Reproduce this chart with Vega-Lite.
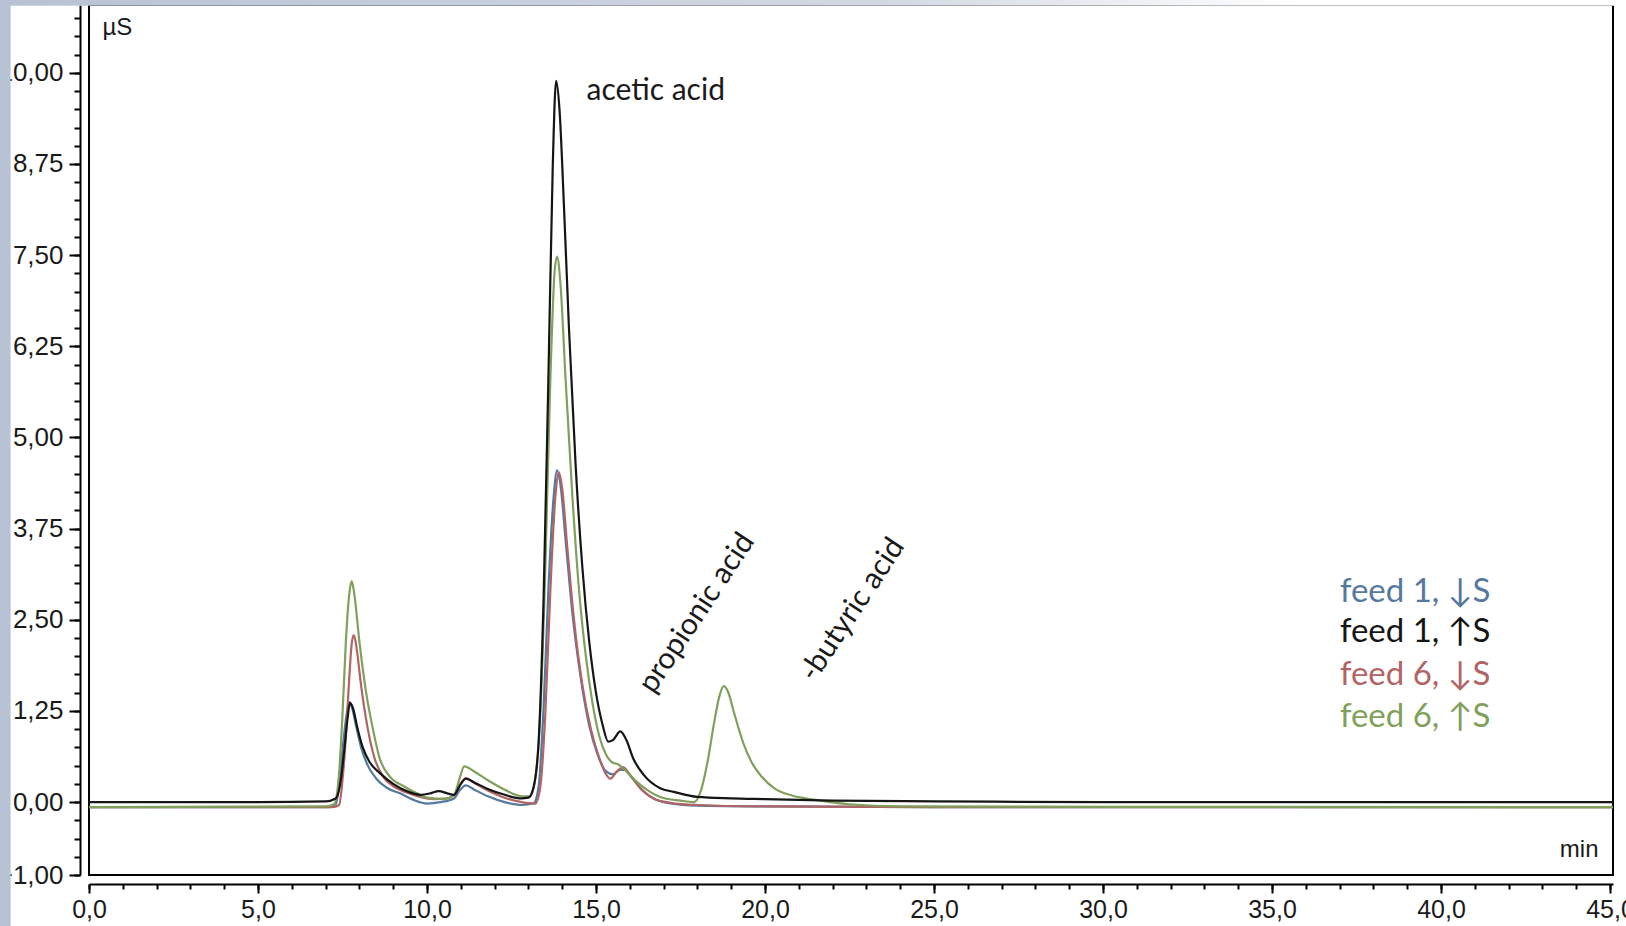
{
  "$schema": "https://vega.github.io/schema/vega-lite/v6.json",
  "width": 1524,
  "height": 870,
  "autosize": {"type": "none"},
  "padding": {"left": 89, "top": 5, "right": 13, "bottom": 51},
  "background": "white",
  "config": {"view": {"stroke": "#000000", "strokeWidth": 2}, "font": "Liberation Sans"},
  "datasets": {
    "blue": [
      {"t":0,"v":-0.07},{"t":7.1,"v":-0.07},{"t":7.3,"v":-0.03},{"t":7.42,"v":0.3},{"t":7.52,"v":0.8},{"t":7.62,"v":1.2},{"t":7.7,"v":1.37},{"t":7.78,"v":1.3},{"t":7.9,"v":1.05},{"t":8.05,"v":0.75},{"t":8.25,"v":0.5},{"t":8.5,"v":0.32},{"t":8.8,"v":0.2},{"t":9.2,"v":0.12},{"t":9.6,"v":0.03},{"t":10.0,"v":-0.02},{"t":10.4,"v":0.0},{"t":10.8,"v":0.05},{"t":10.95,"v":0.15},{"t":11.15,"v":0.23},{"t":11.4,"v":0.17},{"t":11.8,"v":0.08},{"t":12.3,"v":0.0},{"t":12.8,"v":-0.04},{"t":13.15,"v":-0.02},{"t":13.3,"v":0.2},{"t":13.45,"v":1.3},{"t":13.6,"v":3.0},{"t":13.75,"v":4.2},{"t":13.85,"v":4.55},{"t":13.95,"v":4.35},{"t":14.1,"v":3.6},{"t":14.3,"v":2.6},{"t":14.55,"v":1.7},{"t":14.8,"v":1.05},{"t":15.05,"v":0.65},{"t":15.3,"v":0.42},{"t":15.5,"v":0.38},{"t":15.7,"v":0.44},{"t":15.85,"v":0.44},{"t":16.05,"v":0.34},{"t":16.35,"v":0.17},{"t":16.75,"v":0.04},{"t":17.2,"v":-0.02},{"t":18,"v":-0.05},{"t":20,"v":-0.06},{"t":25,"v":-0.07},{"t":45.09,"v":-0.07}
    ],
    "black": [
      {"t":0,"v":0.0},{"t":5,"v":0.0},{"t":7.0,"v":0.01},{"t":7.3,"v":0.05},{"t":7.45,"v":0.3},{"t":7.55,"v":0.7},{"t":7.65,"v":1.15},{"t":7.72,"v":1.36},{"t":7.8,"v":1.3},{"t":7.95,"v":1.0},{"t":8.1,"v":0.75},{"t":8.3,"v":0.55},{"t":8.6,"v":0.4},{"t":9.0,"v":0.25},{"t":9.4,"v":0.15},{"t":9.8,"v":0.1},{"t":10.1,"v":0.12},{"t":10.35,"v":0.15},{"t":10.6,"v":0.12},{"t":10.8,"v":0.1},{"t":11.0,"v":0.25},{"t":11.15,"v":0.32},{"t":11.4,"v":0.27},{"t":11.8,"v":0.18},{"t":12.3,"v":0.1},{"t":12.8,"v":0.05},{"t":13.0,"v":0.06},{"t":13.15,"v":0.2},{"t":13.3,"v":0.8},{"t":13.45,"v":2.8},{"t":13.6,"v":6.0},{"t":13.72,"v":8.7},{"t":13.82,"v":9.89},{"t":13.92,"v":9.5},{"t":14.05,"v":8.2},{"t":14.2,"v":6.5},{"t":14.4,"v":4.6},{"t":14.6,"v":3.2},{"t":14.8,"v":2.2},{"t":15.0,"v":1.5},{"t":15.2,"v":1.05},{"t":15.36,"v":0.83},{"t":15.5,"v":0.85},{"t":15.72,"v":0.97},{"t":15.9,"v":0.85},{"t":16.1,"v":0.6},{"t":16.4,"v":0.38},{"t":16.9,"v":0.19},{"t":17.3,"v":0.14},{"t":18,"v":0.07},{"t":19,"v":0.05},{"t":20,"v":0.04},{"t":22,"v":0.02},{"t":25,"v":0.01},{"t":30,"v":0.0},{"t":45.09,"v":0.0}
    ],
    "red": [
      {"t":0,"v":-0.07},{"t":7.2,"v":-0.07},{"t":7.4,"v":-0.04},{"t":7.5,"v":0.3},{"t":7.6,"v":0.9},{"t":7.7,"v":1.7},{"t":7.78,"v":2.2},{"t":7.84,"v":2.29},{"t":7.92,"v":2.1},{"t":8.05,"v":1.6},{"t":8.25,"v":1.0},{"t":8.45,"v":0.6},{"t":8.7,"v":0.35},{"t":9.0,"v":0.22},{"t":9.4,"v":0.13},{"t":9.8,"v":0.07},{"t":10.2,"v":0.04},{"t":10.6,"v":0.05},{"t":10.85,"v":0.12},{"t":11.0,"v":0.25},{"t":11.15,"v":0.33},{"t":11.4,"v":0.26},{"t":11.8,"v":0.16},{"t":12.3,"v":0.06},{"t":12.8,"v":0.0},{"t":13.2,"v":-0.02},{"t":13.35,"v":0.2},{"t":13.5,"v":1.2},{"t":13.65,"v":2.9},{"t":13.8,"v":4.2},{"t":13.9,"v":4.52},{"t":14.0,"v":4.3},{"t":14.15,"v":3.5},{"t":14.35,"v":2.5},{"t":14.6,"v":1.6},{"t":14.85,"v":1.0},{"t":15.1,"v":0.6},{"t":15.3,"v":0.38},{"t":15.42,"v":0.32},{"t":15.62,"v":0.42},{"t":15.8,"v":0.48},{"t":16.0,"v":0.38},{"t":16.3,"v":0.2},{"t":16.7,"v":0.05},{"t":17.2,"v":-0.01},{"t":18,"v":-0.04},{"t":20,"v":-0.06},{"t":25,"v":-0.07},{"t":45.09,"v":-0.07}
    ],
    "green": [
      {"t":0,"v":-0.07},{"t":7.0,"v":-0.06},{"t":7.25,"v":-0.03},{"t":7.4,"v":0.4},{"t":7.5,"v":1.2},{"t":7.6,"v":2.2},{"t":7.7,"v":2.85},{"t":7.77,"v":3.03},{"t":7.85,"v":2.85},{"t":8.0,"v":2.2},{"t":8.2,"v":1.5},{"t":8.4,"v":1.0},{"t":8.6,"v":0.6},{"t":8.9,"v":0.35},{"t":9.3,"v":0.22},{"t":9.7,"v":0.12},{"t":10.0,"v":0.06},{"t":10.5,"v":0.04},{"t":10.8,"v":0.1},{"t":10.95,"v":0.3},{"t":11.1,"v":0.49},{"t":11.4,"v":0.42},{"t":11.8,"v":0.3},{"t":12.3,"v":0.17},{"t":12.8,"v":0.08},{"t":13.05,"v":0.08},{"t":13.2,"v":0.3},{"t":13.35,"v":1.2},{"t":13.5,"v":3.2},{"t":13.65,"v":5.8},{"t":13.78,"v":7.3},{"t":13.85,"v":7.48},{"t":13.95,"v":7.1},{"t":14.1,"v":5.8},{"t":14.3,"v":4.2},{"t":14.5,"v":2.9},{"t":14.7,"v":2.0},{"t":14.9,"v":1.35},{"t":15.1,"v":0.9},{"t":15.3,"v":0.65},{"t":15.5,"v":0.54},{"t":15.65,"v":0.52},{"t":15.9,"v":0.42},{"t":16.2,"v":0.28},{"t":16.6,"v":0.14},{"t":16.9,"v":0.07},{"t":17.5,"v":0.02},{"t":17.9,"v":0.0},{"t":18.1,"v":0.15},{"t":18.3,"v":0.55},{"t":18.5,"v":1.1},{"t":18.65,"v":1.45},{"t":18.78,"v":1.59},{"t":18.9,"v":1.52},{"t":19.1,"v":1.2},{"t":19.35,"v":0.82},{"t":19.6,"v":0.55},{"t":19.9,"v":0.35},{"t":20.3,"v":0.18},{"t":20.8,"v":0.09},{"t":21.5,"v":0.03},{"t":22.5,"v":-0.03},{"t":24,"v":-0.06},{"t":45.09,"v":-0.07}
    ],
    "legend": [
      {"s":"feed 1, ↓S","t":37.01,"v":2.885},
      {"s":"feed 1, ↑S","t":37.01,"v":2.33},
      {"s":"feed 6, ↓S","t":37.01,"v":1.74},
      {"s":"feed 6, ↑S","t":37.01,"v":1.17}
    ],
    "acetic": [{"label":"acetic acid","t":14.72,"v":9.75}],
    "rotated": [
      {"label":"propionic acid","t":16.7,"v":1.47},
      {"label":"-butyric acid","t":21.47,"v":1.63}
    ],
    "one": [{"k": 1}]
  },
  "layer": [
    {
      "data": {"name": "blue"},
      "transform": [{"calculate": "'feed 1, ↓S'", "as": "s"}],
      "mark": {"type": "line", "interpolate": "monotone", "strokeWidth": 2.2, "clip": true},
      "encoding": {
        "x": {"field": "t", "type": "quantitative", "scale": {"domain": [0, 45.09], "nice": false, "zero": false},
          "axis": {"orient": "bottom", "offset": 9, "values": [0,5,10,15,20,25,30,35,40,45],
            "labelExpr": "replace(format(datum.value,'.1f'),'.',',')",
            "tickSize": 9, "tickWidth": 2, "tickColor": "#000", "domainColor": "#000", "domainWidth": 2,
            "labelFont": "Liberation Sans", "labelFontSize": 25, "labelColor": "#1a1a1a", "labelPadding": 4,
            "labelFlush": false, "labelOverlap": false, "grid": false,
            "title": "min", "titleX": 1509, "titleY": -35, "titleAlign": "right", "titleBaseline": "middle",
            "titleFont": "Liberation Sans", "titleFontSize": 24, "titleFontWeight": "normal", "titleColor": "#1a1a1a"}},
        "y": {"field": "v", "type": "quantitative", "scale": {"domain": [-1, 10.93], "nice": false, "zero": false},
          "axis": {"orient": "left", "offset": 9, "values": [-1,0,1.25,2.5,3.75,5,6.25,7.5,8.75,10],
            "labelExpr": "replace(format(datum.value,'.2f'),'.',',')",
            "tickSize": 11, "tickWidth": 2, "tickColor": "#000", "domainColor": "#000", "domainWidth": 2,
            "labelFont": "Liberation Sans", "labelFontSize": 26, "labelColor": "#1a1a1a", "labelPadding": 6,
            "labelFlush": false, "labelOverlap": false, "grid": false,
            "title": "µS", "titleAngle": 0, "titleX": 22, "titleY": 22, "titleAlign": "left", "titleBaseline": "middle",
            "titleFont": "Liberation Sans", "titleFontSize": 24, "titleFontWeight": "normal", "titleColor": "#1a1a1a"}},
        "color": {"field": "s", "type": "nominal",
          "scale": {"domain": ["feed 1, ↓S","feed 1, ↑S","feed 6, ↓S","feed 6, ↑S"], "range": ["#55789e","#151515","#b06464","#80a05c"]},
          "legend": null}
      }
    },
    {
      "data": {"name": "red"},
      "transform": [{"calculate": "'feed 6, ↓S'", "as": "s"}],
      "mark": {"type": "line", "interpolate": "monotone", "strokeWidth": 2.2, "clip": true},
      "encoding": {
        "x": {"field": "t", "type": "quantitative", "axis": null},
        "y": {"field": "v", "type": "quantitative", "axis": null},
        "color": {"field": "s", "type": "nominal", "legend": null}
      }
    },
    {
      "data": {"name": "green"},
      "transform": [{"calculate": "'feed 6, ↑S'", "as": "s"}],
      "mark": {"type": "line", "interpolate": "monotone", "strokeWidth": 2.2, "clip": true},
      "encoding": {
        "x": {"field": "t", "type": "quantitative", "axis": null},
        "y": {"field": "v", "type": "quantitative", "axis": null},
        "color": {"field": "s", "type": "nominal", "legend": null}
      }
    },
    {
      "data": {"name": "black"},
      "transform": [{"calculate": "'feed 1, ↑S'", "as": "s"}],
      "mark": {"type": "line", "interpolate": "monotone", "strokeWidth": 2.2, "clip": true},
      "encoding": {
        "x": {"field": "t", "type": "quantitative", "axis": null},
        "y": {"field": "v", "type": "quantitative", "axis": null},
        "color": {"field": "s", "type": "nominal", "legend": null}
      }
    },
    {
      "data": {"name": "legend"},
      "mark": {"type": "text", "font": "Lato", "fontSize": 33, "align": "left", "baseline": "middle"},
      "encoding": {
        "x": {"field": "t", "type": "quantitative",
          "axis": {"orient": "bottom", "offset": 9, "values": [0,1,2,3,4,5,6,7,8,9,10,11,12,13,14,15,16,17,18,19,20,21,22,23,24,25,26,27,28,29,30,31,32,33,34,35,36,37,38,39,40,41,42,43,44,45],
            "labels": false, "domain": false, "grid": false, "tickSize": 5, "tickWidth": 2, "tickColor": "#000", "title": null}},
        "y": {"field": "v", "type": "quantitative",
          "axis": {"orient": "left", "offset": 9, "values": [-1,-0.75,-0.5,-0.25,0,0.25,0.5,0.75,1,1.25,1.5,1.75,2,2.25,2.5,2.75,3,3.25,3.5,3.75,4,4.25,4.5,4.75,5,5.25,5.5,5.75,6,6.25,6.5,6.75,7,7.25,7.5,7.75,8,8.25,8.5,8.75,9,9.25,9.5,9.75,10,10.25,10.5,10.75],
            "labels": false, "domain": false, "grid": false, "tickSize": 6, "tickWidth": 2, "tickColor": "#000", "title": null}},
        "text": {"field": "s", "type": "nominal"},
        "color": {"field": "s", "type": "nominal", "legend": null}
      }
    },
    {
      "data": {"name": "acetic"},
      "mark": {"type": "text", "font": "Lato", "fontSize": 30, "align": "left", "baseline": "middle", "color": "#1a1a1a"},
      "encoding": {
        "x": {"field": "t", "type": "quantitative", "axis": null},
        "y": {"field": "v", "type": "quantitative", "axis": null},
        "text": {"field": "label", "type": "nominal"}
      }
    },
    {
      "data": {"name": "rotated"},
      "mark": {"type": "text", "font": "Lato", "fontSize": 30, "align": "left", "baseline": "alphabetic", "angle": -56.5, "color": "#1a1a1a"},
      "encoding": {
        "x": {"field": "t", "type": "quantitative", "axis": null},
        "y": {"field": "v", "type": "quantitative", "axis": null},
        "text": {"field": "label", "type": "nominal"}
      }
    },
    {
      "data": {"name": "one"},
      "mark": {"type": "rect", "clip": false, "fill": {"gradient": "linear", "x1": 0, "y1": 0, "x2": 1, "y2": 0, "stops": [{"offset": 0, "color": "#b7c2d4"}, {"offset": 0.55, "color": "#d3d9e3"}, {"offset": 0.8, "color": "#ffffff"}, {"offset": 1, "color": "#ffffff"}]}},
      "encoding": {
        "x": {"datum": -2.7, "type": "quantitative", "axis": null},
        "x2": {"datum": 45.5},
        "y": {"datum": 10.92, "type": "quantitative", "axis": null},
        "y2": {"datum": 11.3}
      }
    },
    {
      "data": {"name": "one"},
      "mark": {"type": "rect", "clip": false, "fill": "#b7c2d4"},
      "encoding": {
        "x": {"datum": -2.7, "type": "quantitative", "axis": null},
        "x2": {"datum": -2.32},
        "y": {"datum": -2.5, "type": "quantitative", "axis": null},
        "y2": {"datum": 11.3}
      }
    }
  ],
  "resolve": {"axis": {"x": "independent", "y": "independent"}}
}
